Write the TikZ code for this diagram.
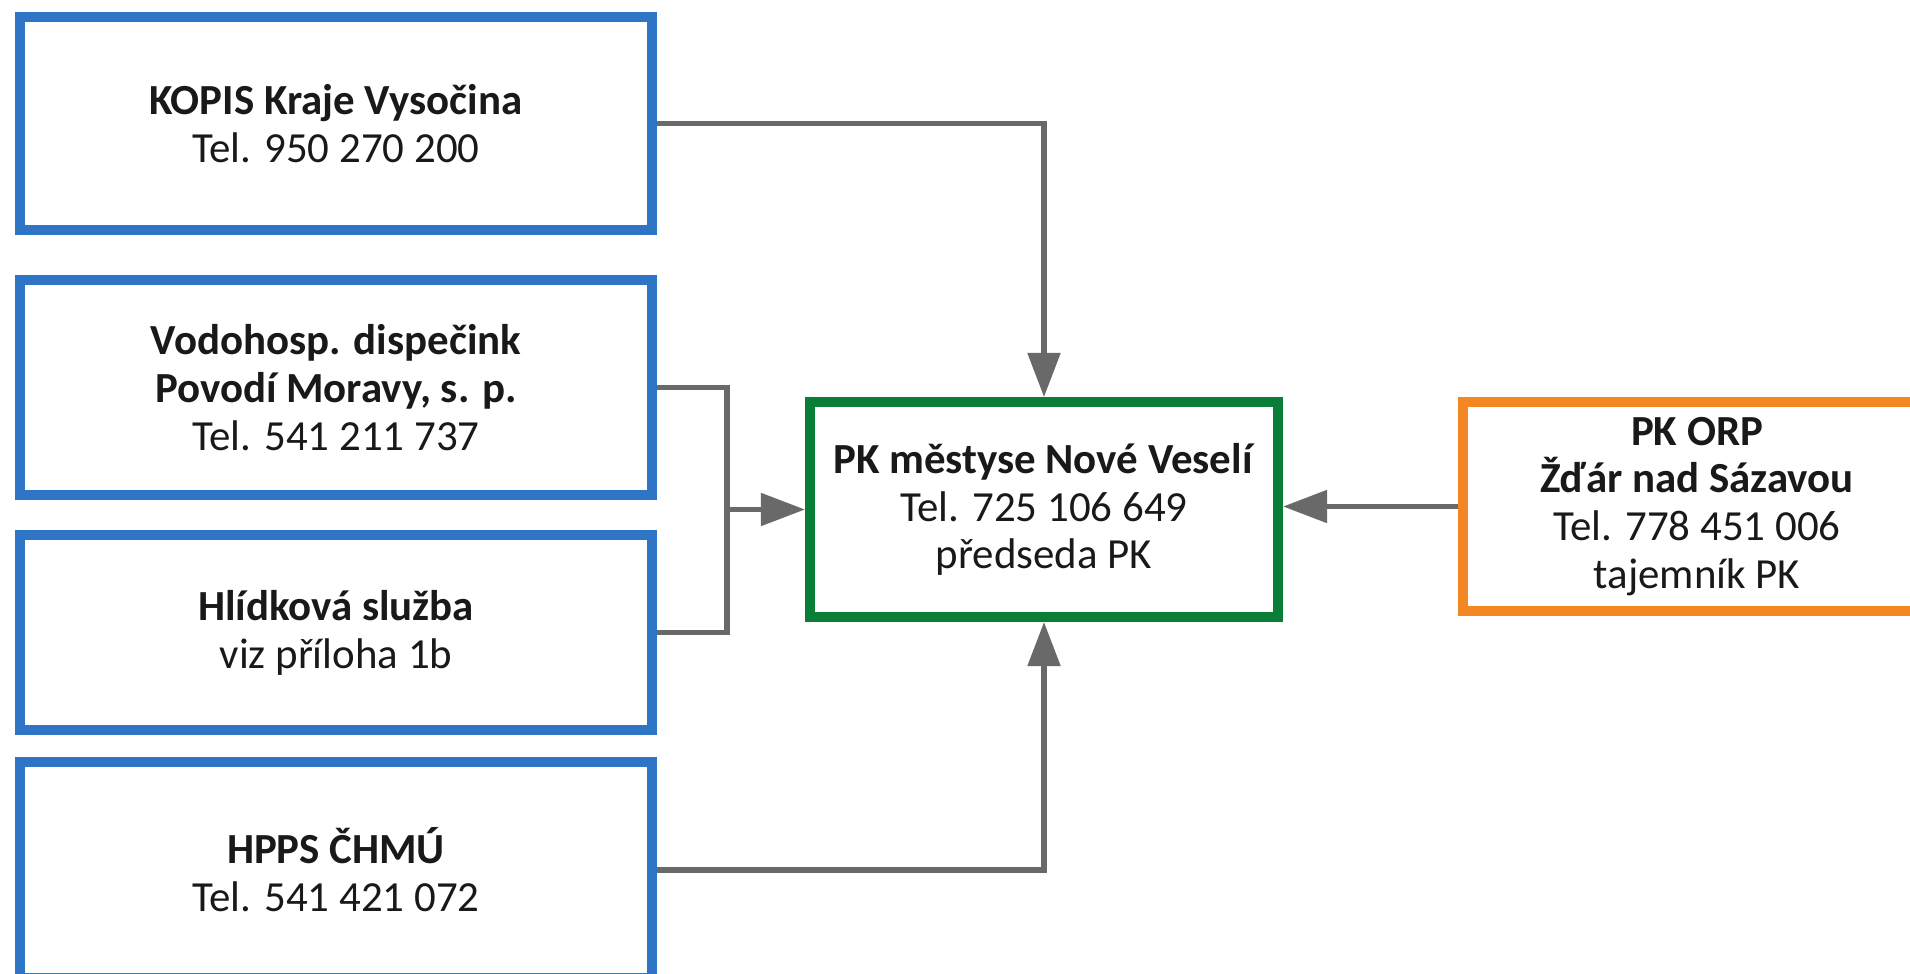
\documentclass[tikz,border=0pt]{standalone}
\usepackage{fontspec}
\setmainfont{Carlito}
\usetikzlibrary{arrows.meta}
\definecolor{bblue}{RGB}{46,117,198}
\definecolor{bgreen}{RGB}{10,125,55}
\definecolor{borange}{RGB}{242,135,35}
\definecolor{cgray}{RGB}{105,105,105}
\definecolor{txt}{RGB}{25,25,25}
\begin{document}
\begin{tikzpicture}[x=0.01cm,y=-0.01cm,
  box/.style={draw, line width=2.8pt, fill=white, align=center, text=txt, inner sep=0pt,
    font=\fontsize{12.2}{13.6}\selectfont},
  bluebox/.style={box, draw=bblue, minimum width=6.32cm},
  conn/.style={draw=cgray, line width=1.45pt},
  arr/.style={conn, -{Triangle[length=0.44cm,width=0.32cm]}}]
\fill[white] (0,0) rectangle (1910,973);
\clip (0,0) rectangle (1910,973);
\node[bluebox, minimum height=2.13cm] (kopis) at (336,123.5)
  {\textbf{KOPIS Kraje Vysočina}\\Tel. 950 270 200};
\node[bluebox, minimum height=2.15cm] (vodo) at (336,387.5)
  {\textbf{Vodohosp. dispečink}\\\textbf{Povodí Moravy, s. p.}\\Tel. 541 211 737};
\node[bluebox, minimum height=1.95cm] (hlid) at (336,632.5)
  {\textbf{Hlídková služba}\\viz příloha 1b};
\node[bluebox, minimum height=2.16cm] (hpps) at (336,870)
  {\textbf{HPPS ČHMÚ}\\Tel. 541 421 072};
\node[box, draw=bgreen, minimum width=4.68cm, minimum height=2.15cm] (pk) at (1044,509.5)
  {\textbf{PK městyse Nové Veselí}\\Tel. 725 106 649\\předseda PK};
\node[box, draw=borange, minimum width=4.68cm, minimum height=2.09cm] (orp) at (1697,506.5)
  {\textbf{PK ORP}\\\textbf{Žďár nad Sázavou}\\Tel. 778 451 006\\tajemník PK};
\path (pk.west) ++(-78,0) coordinate (j);
\draw[arr] (kopis.east) -| (pk.north);
\draw[arr] (hpps.east) -| (pk.south);
\draw[conn] (vodo.east) -| (j) |- (hlid.east);
\draw[arr] (j) -- (pk.west);
\draw[arr] (orp.west) -- (orp.west -| pk.east);
\end{tikzpicture}
\end{document}
